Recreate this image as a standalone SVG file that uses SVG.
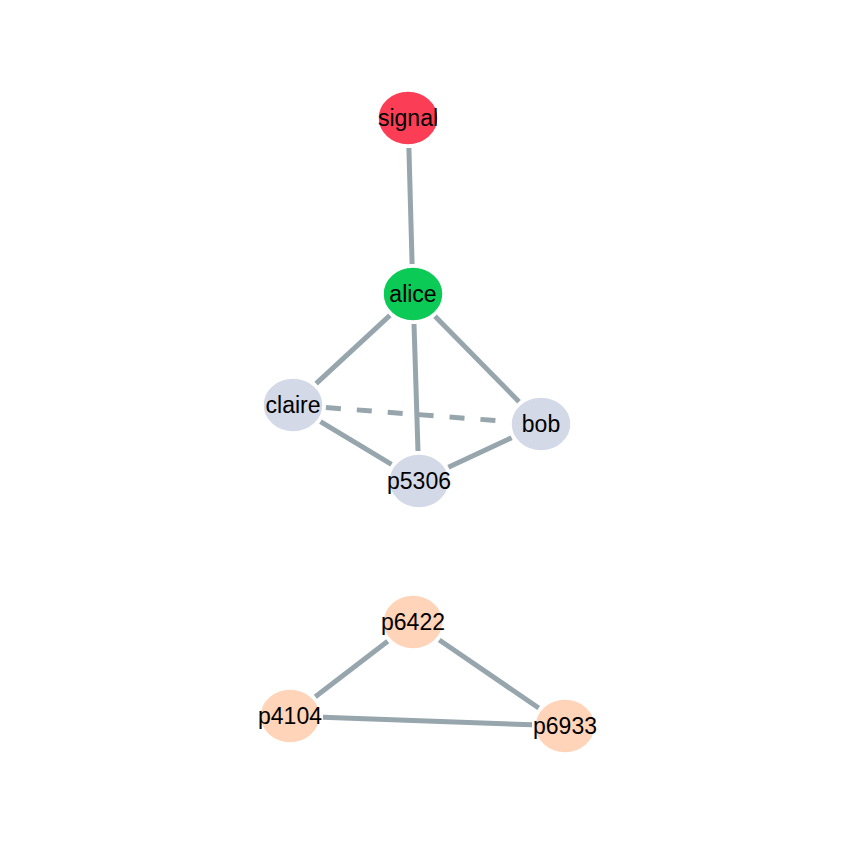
<svg xmlns="http://www.w3.org/2000/svg" width="855" height="854" viewBox="0 0 855 854">
<style>
.e{stroke:#97a5ad;stroke-width:5;fill:none}
.d{stroke-dasharray:15 16}
ellipse{stroke:#ffffff;stroke-width:1.5}
text{font-family:"Liberation Sans",Arial,sans-serif;font-size:23px;fill:#000;text-anchor:middle}
.red{fill:#fb3e56}.green{fill:#0bca55}.gray{fill:#d4d9e7}.peach{fill:#ffd4b8}
</style>
<rect width="855" height="854" fill="#fff"/>
<g id="edges">
<line class="e" x1="408.9" y1="148" x2="412.1" y2="264"/>
<line class="e" x1="389.9" y1="315.4" x2="316.1" y2="383.6"/>
<line class="e" x1="435" y1="316.3" x2="519" y2="401.7"/>
<line class="e" x1="414" y1="324" x2="418" y2="451"/>
<line class="e d" x1="325.9" y1="407.5" x2="508.1" y2="421.5"/>
<line class="e" x1="320.5" y1="421.6" x2="391.5" y2="464.4"/>
<line class="e" x1="511.6" y1="437.7" x2="448.4" y2="467.3"/>
<line class="e" x1="387.7" y1="641.3" x2="315.3" y2="696.7"/>
<line class="e" x1="439.3" y1="640" x2="538.7" y2="708"/>
<line class="e" x1="323" y1="717.2" x2="532" y2="724.8"/>
</g>
<g id="signal"><ellipse class="red" cx="408" cy="118" rx="30" ry="27"/><text x="408" y="126">signal</text></g>
<g id="alice"><ellipse class="green" cx="413" cy="294" rx="30" ry="27"/><text x="413" y="302">alice</text></g>
<g id="claire"><ellipse class="gray" cx="293" cy="405" rx="30" ry="27"/><text x="293" y="413">claire</text></g>
<g id="bob"><ellipse class="gray" cx="541" cy="424" rx="30" ry="27"/><text x="541" y="432">bob</text></g>
<g id="p5306"><ellipse class="gray" cx="419" cy="481" rx="30" ry="27"/><text x="419" y="489">p5306</text></g>
<g id="p6422"><ellipse class="peach" cx="413" cy="622" rx="30" ry="27"/><text x="413" y="630">p6422</text></g>
<g id="p4104"><ellipse class="peach" cx="290" cy="716" rx="30" ry="27"/><text x="290" y="724">p4104</text></g>
<g id="p6933"><ellipse class="peach" cx="565" cy="726" rx="30" ry="27"/><text x="565" y="734">p6933</text></g>
</svg>
